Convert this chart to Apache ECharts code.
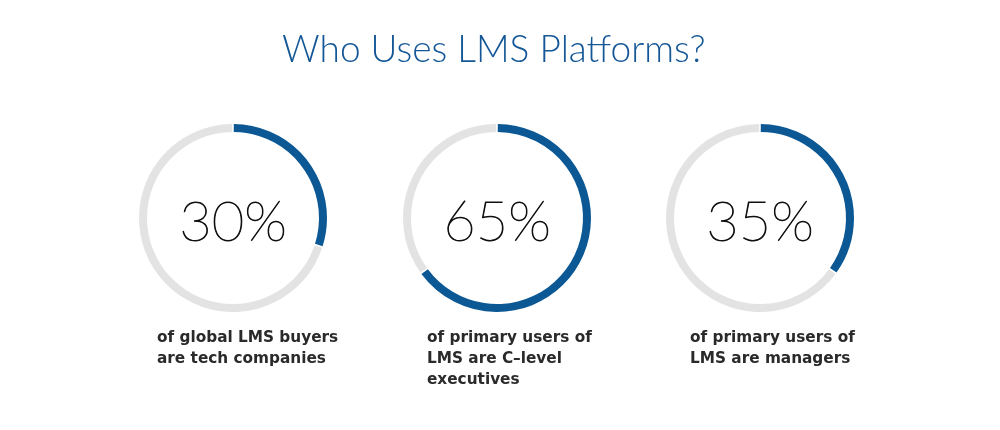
<!DOCTYPE html>
<html>
<head>
<meta charset="utf-8">
<script src="https://cdn.jsdelivr.net/npm/echarts@6/dist/echarts.min.js"></script>
<style>
  html, body { margin: 0; padding: 0; background: #fff; }
  #main { width: 1000px; height: 430px; }
</style>
</head>
<body>
<div id="main"></div>
<script>
// data
var titleText = 'Who Uses LMS Platforms?';
var percents = [30, 65, 35];
var captions = [
    'of global LMS buyers\nare tech companies',
    'of primary users of\nLMS are C\u2013level\nexecutives',
    'of primary users of\nLMS are managers'
];

// layout
var centersX = [233, 497, 760];
var centerY = 218;
var captionX = [157, 427, 690];

var blue = '#0b5894';
var grey = '#e3e3e3';

var myChart = echarts.init(document.getElementById('main'));

var series = [];
var graphics = [];
for (var i = 0; i < percents.length; i++) {
    series.push({
        type: 'pie',
        center: [centersX[i], centerY],
        radius: [86, 94],
        startAngle: 90,
        clockwise: true,
        padAngle: 1,
        silent: true,
        label: { show: false },
        labelLine: { show: false },
        data: [
            { value: percents[i], itemStyle: { color: blue } },
            { value: 100 - percents[i], itemStyle: { color: grey } }
        ]
    });
    // big number in the middle of the ring (thin Lato, a little stroked)
    graphics.push({
        type: 'text',
        x: centersX[i],
        y: centerY + 5,
        style: {
            text: percents[i] + '%',
            font: '100 56px Lato',
            fill: '#111',
            stroke: '#111',
            lineWidth: 0.9,
            textAlign: 'center',
            textVerticalAlign: 'middle'
        }
    });
    graphics.push({
        type: 'text',
        x: captionX[i],
        y: 328,
        style: {
            text: captions[i],
            font: 'bold 15.3px "DejaVu Sans"',
            fill: '#2a2a2a',
            lineHeight: 21,
            textAlign: 'left',
            textVerticalAlign: 'top'
        }
    });
}

var option = {
    animation: false,
    title: {
        text: titleText,
        left: 277,
        top: 27,
        textStyle: {
            fontFamily: 'Lato',
            fontWeight: 300,
            fontSize: 37,
            color: '#145797'
        }
    },
    series: series,
    graphic: graphics
};

myChart.setOption(option);
</script>
</body>
</html>
